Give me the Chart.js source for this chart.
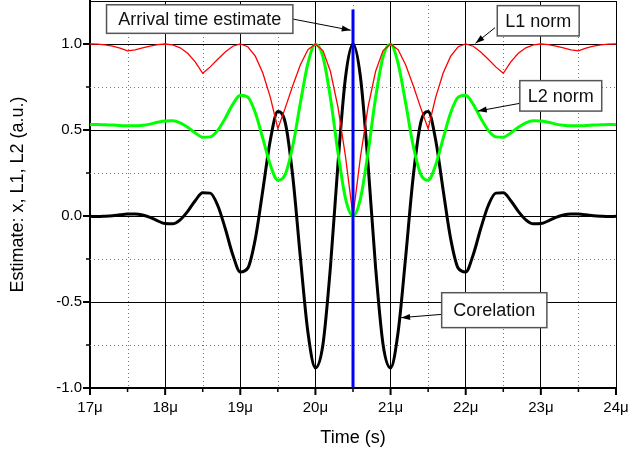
<!DOCTYPE html>
<html><head><meta charset="utf-8">
<script src="https://cdn.jsdelivr.net/npm/chart.js@4/dist/chart.umd.min.js"></script>
<style>html,body{margin:0;padding:0;background:#fff;}#wrap{width:628px;height:451px;}</style>
</head><body><div id="wrap"><canvas id="c" width="628" height="451"></canvas></div>
<script>
// Time axis (microseconds)
const times = [17.0,17.1,17.2,17.3,17.4,17.5,17.6,17.7,17.8,17.9,
18.0,18.1,18.2,18.3,18.4,18.5,18.6,18.7,18.8,18.9,
19.0,19.1,19.2,19.3,19.4,19.5,19.6,19.7,19.8,19.9,
20.0,20.1,20.2,20.3,20.4,20.5,20.6,20.7,20.8,20.9,
21.0,21.1,21.2,21.3,21.4,21.5,21.6,21.7,21.8,21.9,
22.0,22.1,22.2,22.3,22.4,22.5,22.6,22.7,22.8,22.9,
23.0,23.1,23.2,23.3,23.4,23.5,23.6,23.7,23.8,23.9,24.0];
const correlation = [-0.002,-0.003,-0.001,0.002,0.007,0.011,0.012,0.006,-0.008,-0.028,
-0.044,-0.045,-0.022,0.027,0.089,0.135,0.133,0.061,-0.073,-0.225,
-0.325,-0.303,-0.133,0.150,0.442,0.607,0.540,0.224,-0.242,-0.676,
-0.883,-0.747,-0.295,0.303,0.805,1.000,0.805,0.303,-0.295,-0.747,
-0.883,-0.676,-0.242,0.224,0.540,0.607,0.442,0.150,-0.133,-0.303,
-0.325,-0.225,-0.073,0.061,0.133,0.135,0.089,0.027,-0.022,-0.045,
-0.044,-0.028,-0.008,0.006,0.012,0.011,0.007,0.002,-0.001,-0.003,-0.002];
const l1Norm = [1.000,0.999,0.995,0.988,0.976,0.960,0.966,0.977,0.987,0.996,
1.000,0.995,0.978,0.946,0.896,0.830,0.867,0.911,0.954,0.987,
1.000,0.984,0.929,0.831,0.690,0.508,0.630,0.760,0.879,0.967,
1.000,0.962,0.840,0.633,0.346,0.000,0.346,0.633,0.840,0.962,
1.000,0.967,0.879,0.760,0.630,0.508,0.690,0.831,0.929,0.984,
1.000,0.987,0.954,0.911,0.867,0.830,0.896,0.946,0.978,0.995,
1.000,0.996,0.987,0.977,0.966,0.960,0.976,0.988,0.995,0.999,1.000];
const l2Norm = [0.531,0.532,0.530,0.529,0.526,0.524,0.524,0.527,0.534,0.545,
0.553,0.554,0.542,0.516,0.483,0.458,0.460,0.498,0.569,0.649,
0.702,0.691,0.600,0.451,0.296,0.208,0.244,0.411,0.658,0.888,
0.998,0.926,0.686,0.369,0.103,0.000,0.103,0.369,0.686,0.926,
0.998,0.888,0.658,0.411,0.244,0.208,0.296,0.451,0.600,0.691,
0.702,0.649,0.569,0.498,0.460,0.458,0.483,0.516,0.542,0.554,
0.553,0.545,0.534,0.527,0.524,0.524,0.526,0.529,0.530,0.532,0.531];
const arrivalTime = 20.5;
const arrivalSpan = [-1.0, 1.2];

// annotation callouts (data units)
const calloutTexts = ['Arrival time estimate','L1 norm','L2 norm','Corelation'];
const calloutBoxes = [[17.22,1.228,19.70,1.062],[22.42,1.223,23.51,1.047],[22.72,0.787,23.81,0.610],[21.68,-0.446,23.08,-0.649]];
const calloutArrows = [[19.70,1.145,20.47,1.08],[22.39,1.095,22.13,1.004],[22.72,0.655,22.16,0.610],[21.68,-0.572,21.14,-0.591]];

const FONT = "'Liberation Sans', Arial, sans-serif";
Chart.defaults.font.family = FONT;
Chart.defaults.color = '#000';

const isInt = v => Math.abs(v - Math.round(v)) < 1e-6;
const isHalf = v => Math.abs(v * 2 - Math.round(v * 2)) < 1e-6;
const pts = arr => times.map((t, i) => ({x: t, y: arr[i]}));

function arrow(ctx, x1, y1, x2, y2) {
  ctx.beginPath(); ctx.moveTo(x1, y1); ctx.lineTo(x2, y2); ctx.stroke();
  const a = Math.atan2(y2 - y1, x2 - x1), L = 9, W = 3;
  ctx.beginPath(); ctx.moveTo(x2, y2);
  ctx.lineTo(x2 - L * Math.cos(a) + W * Math.sin(a), y2 - L * Math.sin(a) - W * Math.cos(a));
  ctx.lineTo(x2 - L * Math.cos(a) - W * Math.sin(a), y2 - L * Math.sin(a) + W * Math.cos(a));
  ctx.closePath(); ctx.fill();
}

const decor = {
  id: 'decor',
  beforeDatasetsDraw(chart) {
    const {ctx, chartArea: a, scales: {x, y}} = chart;
    ctx.save();
    ctx.strokeStyle = '#777'; ctx.lineWidth = 1; ctx.setLineDash([1, 3]);
    x.ticks.forEach(t => {
      if (!isInt(t.value)) {
        const px = Math.round(x.getPixelForValue(t.value)) + 0.5;
        ctx.beginPath(); ctx.moveTo(px, a.top); ctx.lineTo(px, a.bottom); ctx.stroke();
      }
    });
    y.ticks.forEach(t => {
      if (!isHalf(t.value) && t.value < 1.2) {
        const py = Math.round(y.getPixelForValue(t.value)) + 0.5;
        ctx.beginPath(); ctx.moveTo(a.left, py); ctx.lineTo(a.right, py); ctx.stroke();
      }
    });
    ctx.setLineDash([]);
    ctx.strokeStyle = '#000'; ctx.lineWidth = 1;
    const top = Math.round(a.top) + 0.5, right = Math.round(a.right) + 0.5;
    ctx.beginPath(); ctx.moveTo(a.left, top); ctx.lineTo(right, top); ctx.lineTo(right, a.bottom); ctx.stroke();
    ctx.restore();
  },
  afterDraw(chart) {
    const {ctx, chartArea: a, scales: {x, y}} = chart;
    ctx.save();
    ctx.strokeStyle = '#000';
    x.ticks.forEach(t => {
      const px = x.getPixelForValue(t.value), major = isInt(t.value);
      ctx.lineWidth = major ? 2 : 1.5;
      ctx.beginPath(); ctx.moveTo(px, a.bottom); ctx.lineTo(px, a.bottom + (major ? 7 : 4)); ctx.stroke();
    });
    y.ticks.forEach(t => {
      if (t.value > 1.2) return;
      const py = y.getPixelForValue(t.value), major = isHalf(t.value);
      ctx.lineWidth = major ? 2 : 1.5;
      ctx.beginPath(); ctx.moveTo(a.left - (major ? 7 : 4), py); ctx.lineTo(a.left, py); ctx.stroke();
    });
    // callouts
    calloutTexts.forEach((txt, i) => {
      const [x1, y1, x2, y2] = calloutBoxes[i];
      const l = x.getPixelForValue(x1), r = x.getPixelForValue(x2);
      const tp = y.getPixelForValue(y1), bt = y.getPixelForValue(y2);
      const [ax1, ay1, ax2, ay2] = calloutArrows[i];
      ctx.strokeStyle = '#000'; ctx.fillStyle = '#000'; ctx.lineWidth = 1;
      arrow(ctx, x.getPixelForValue(ax1), y.getPixelForValue(ay1), x.getPixelForValue(ax2), y.getPixelForValue(ay2));
      ctx.fillStyle = '#fff'; ctx.fillRect(l, tp, r - l, bt - tp);
      ctx.strokeStyle = '#555'; ctx.lineWidth = 1.5; ctx.strokeRect(l, tp, r - l, bt - tp);
      ctx.fillStyle = '#111'; ctx.font = '18px ' + FONT; ctx.textAlign = 'center'; ctx.textBaseline = 'middle';
      ctx.fillText(txt, (l + r) / 2, (tp + bt) / 2 + 1);
    });
    ctx.restore();
  }
};

new Chart(document.getElementById('c'), {
  type: 'line',
  data: {
    datasets: [
      {label: 'Arrival time estimate', data: arrivalSpan.map(v => ({x: arrivalTime, y: v})), borderColor: '#0000ff', borderWidth: 3, pointRadius: 0, tension: 0},
      {label: 'L1 norm', data: pts(l1Norm), borderColor: '#ff0000', borderWidth: 1.3, pointRadius: 0, tension: 0},
      {label: 'L2 norm', data: pts(l2Norm), borderColor: '#00ff00', borderWidth: 3, pointRadius: 0, cubicInterpolationMode: 'monotone'},
      {label: 'Corelation', data: pts(correlation), borderColor: '#000000', borderWidth: 3, pointRadius: 0, cubicInterpolationMode: 'monotone'}
    ]
  },
  options: {
    responsive: false, devicePixelRatio: 1, animation: false,
    layout: {padding: {top: 1, right: 12, left: 0, bottom: 0}},
    plugins: {legend: {display: false}, tooltip: {enabled: false}},
    scales: {
      x: {
        type: 'linear', min: 17, max: 24,
        afterFit: s => { s.height = 63; s.paddingLeft = 0; s.paddingRight = 0; },
        ticks: {stepSize: 0.5, autoSkip: false, maxRotation: 0, padding: 11, font: {size: 15}, color: '#000',
          callback: v => isInt(v) ? Math.round(v) + 'μ' : ''},
        grid: {color: c => (c.tick && isInt(c.tick.value)) ? '#000' : 'rgba(0,0,0,0)', lineWidth: 1, drawTicks: false},
        border: {display: true, color: '#000', width: 2},
        title: {display: true, text: 'Time (s)', font: {size: 18}, color: '#000', padding: {top: 0, bottom: 2}}
      },
      y: {
        type: 'linear', min: -1, max: 1.25,
        afterFit: s => { s.width = 90; s.paddingTop = 0; s.paddingBottom = 0; },
        ticks: {stepSize: 0.25, autoSkip: false, padding: 8, font: {size: 15}, color: '#000',
          callback: v => (isHalf(v) && v < 1.2) ? v.toFixed(1) : ''},
        grid: {color: c => (c.tick && isHalf(c.tick.value) && c.tick.value < 1.2) ? '#000' : 'rgba(0,0,0,0)', lineWidth: 1, drawTicks: false},
        border: {display: true, color: '#000', width: 2},
        title: {display: true, text: 'Estimate: x, L1, L2 (a.u.)', font: {size: 18}, color: '#000', padding: {top: 7, bottom: 0}}
      }
    }
  },
  plugins: [decor]
});
</script>
</body></html>
